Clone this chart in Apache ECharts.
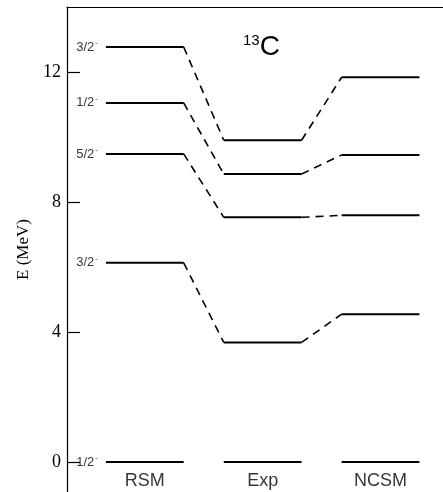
<!DOCTYPE html>
<html>
<head>
<meta charset="utf-8">
<script src="https://cdn.jsdelivr.net/npm/echarts@6/dist/echarts.min.js"></script>
<style>
html,body{margin:0;padding:0;background:#fff;}
#chart{width:443px;height:492px;}
</style>
</head>
<body>
<div id="chart"></div>
<script>
// Data
const columns = ['RSM', 'Exp', 'NCSM'];
const spins = ['1/2', '3/2', '5/2', '1/2', '3/2'];
const rsm  = [0, 6.13, 9.48, 11.05, 12.77];
const exp  = [0, 3.68, 7.53, 8.86, 9.90];
const ncsm = [0, 4.55, 7.59, 9.45, 11.84];
const yTicks = [0, 4, 8, 12];

const levels = [rsm, exp, ncsm];
const half = 0.33;
const series = [];

// level bars
levels.forEach((col, c) => {
  col.forEach(E => {
    series.push({
      type: 'line', silent: true, symbol: 'none', animation: false,
      data: [[c - half, E], [c + half, E]],
      lineStyle: { color: '#000', width: 2 }
    });
  });
});
// dashed connectors (excited states only)
for (let c = 0; c < levels.length - 1; c++) {
  for (let i = 1; i < levels[c].length; i++) {
    series.push({
      type: 'line', silent: true, symbol: 'none', animation: false,
      data: [[c + half, levels[c][i]], [c + 1 - half, levels[c + 1][i]]],
      lineStyle: { color: '#000', width: 1.6, type: [8, 6] }
    });
  }
}
// spin labels
series.push({
  type: 'scatter', silent: true, symbolSize: 0, animation: false,
  data: rsm.map((E, i) => ({ value: [-half, E], name: spins[i] })),
  label: {
    show: true, position: 'left', distance: 8, offset: [0, -1],
    formatter: p => '{a|' + p.name + '}{s|-}',
    rich: {
      a: { fontFamily: 'Liberation Sans', fontSize: 13, lineHeight: 15, color: '#000', verticalAlign: 'bottom' },
      s: { fontFamily: 'Liberation Sans', fontSize: 8, lineHeight: 8, color: '#000', verticalAlign: 'top', padding: [0, 0, 14, 1] }
    }
  }
});
// column names
series.push({
  type: 'scatter', silent: true, symbolSize: 0, animation: false,
  data: columns.map((n, i) => ({ value: [i, -0.57], name: n })),
  label: {
    show: true, position: 'inside', formatter: p => p.name,
    fontFamily: 'Liberation Sans', fontSize: 18, color: '#000'
  }
});

const chart = echarts.init(document.getElementById('chart'));
chart.setOption({
  animation: false,
  title: {
    left: 238, top: 28,
    text: '{s|13}{c|C}',
    textStyle: {
      fontWeight: 'normal',
      rich: {
        s: { fontFamily: 'Liberation Sans', fontSize: 15, fontWeight: 'normal', color: '#000', verticalAlign: 'top' },
        c: { fontFamily: 'Liberation Sans', fontSize: 28, fontWeight: 'normal', color: '#000' }
      }
    }
  },
  grid: { left: 67, right: 0, top: 7, bottom: 0, containLabel: false },
  xAxis: {
    type: 'value', min: -0.66, max: 2.53, position: 'top',
    axisLine: { show: true, onZero: false, lineStyle: { color: '#000', width: 1.2 } },
    axisTick: { show: false }, axisLabel: { show: false }, splitLine: { show: false }
  },
  yAxis: {
    type: 'value', min: -0.92, max: 14,
    name: 'E (MeV)', nameLocation: 'middle', nameGap: 32,
    nameTextStyle: { fontFamily: 'Liberation Serif', fontSize: 17, color: '#000' },
    axisLine: { show: true, onZero: false, lineStyle: { color: '#000', width: 1.2 } },
    axisTick: { show: true, inside: true, length: 13, customValues: yTicks, lineStyle: { color: '#000', width: 1.2 } },
    axisLabel: { customValues: yTicks, fontFamily: 'Liberation Serif', fontSize: 18, color: '#000', margin: 6 },
    splitLine: { show: false }
  },
  series: series
});
</script>
</body>
</html>
